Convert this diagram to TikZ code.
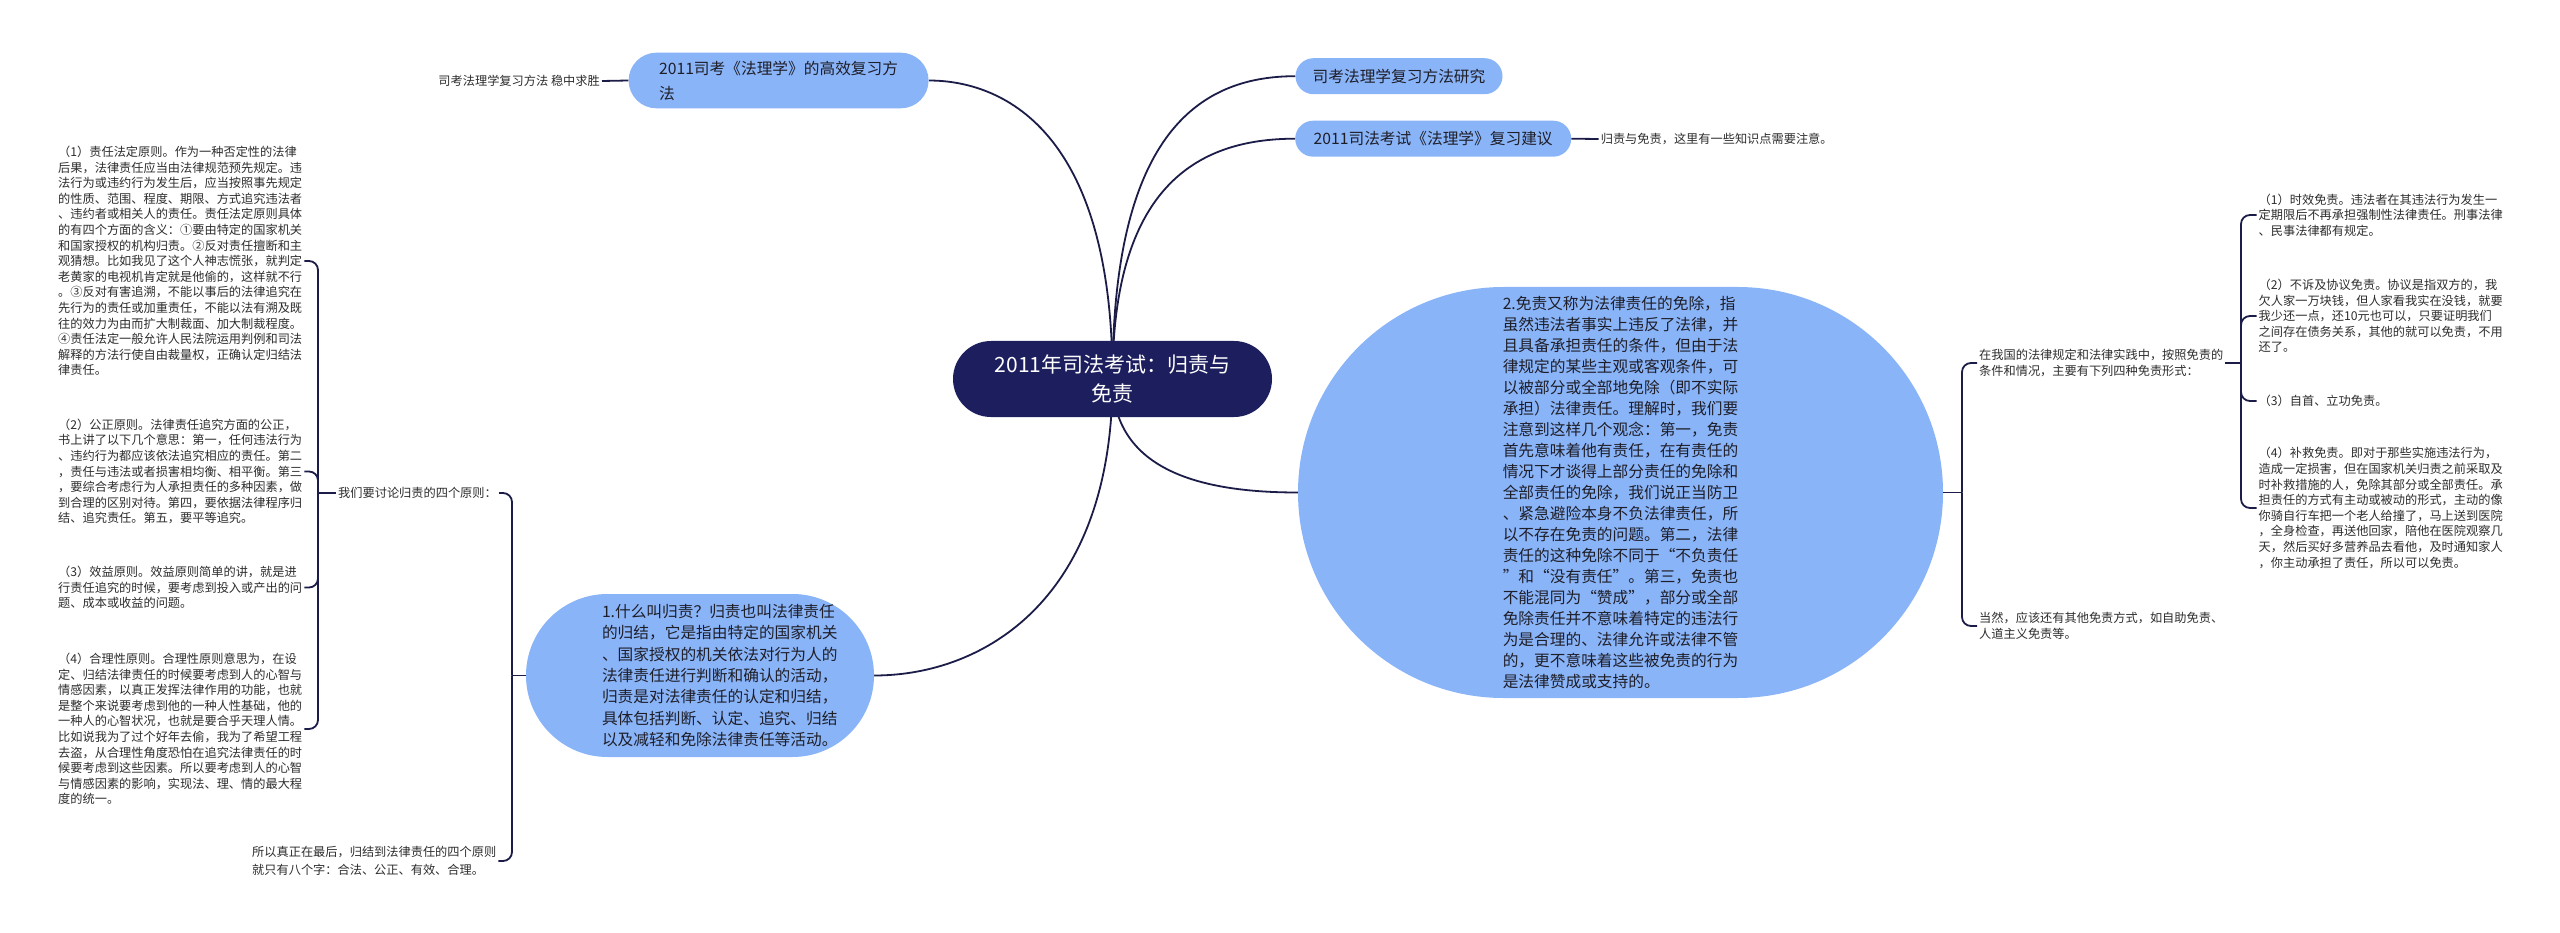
\documentclass[tikz,border=0pt]{standalone}
\usepackage{fontspec}
\setmainfont{Noto Sans CJK SC}
\definecolor{nodeblue}{RGB}{138,180,248}
\definecolor{centerc}{RGB}{29,30,94}
\definecolor{linec}{RGB}{27,28,72}
\definecolor{txtgray}{RGB}{45,45,45}
\definecolor{txtdark}{RGB}{30,30,40}
\pgfdeclarelayer{back}
\pgfsetlayers{back,main}
\begin{document}
\begin{tikzpicture}[x=1pt,y=-1pt,
  conn/.style={draw=linec,line width=1.8pt},
  bracket/.style={conn,rounded corners=9pt},
  bubble/.style={fill=nodeblue,text=txtdark,inner sep=0pt,align=left},
  small/.style={text=txtgray,inner sep=2pt,align=left,font=\fontsize{12.2pt}{15.6pt}\selectfont},
]
\useasboundingbox (0,0) rectangle (2560,933);

% ---------- main nodes ----------
\node[fill=centerc,text=white,rounded corners=38pt,minimum width=319pt,minimum height=76pt,inner sep=0pt,align=center,font=\fontsize{21pt}{28.5pt}\selectfont] (c) at (1112.5,379) {2011年司法考试：归责与\\免责};

\node[bubble,rounded corners=27.8pt,minimum width=300pt,minimum height=55.6pt,font=\fontsize{15.7pt}{25pt}\selectfont] (tl) at (778.6,80.5) {2011司考《法理学》的高效复习方\\法};

\node[bubble,rounded corners=18pt,minimum width=207pt,minimum height=36pt,font=\fontsize{15.7pt}{18pt}\selectfont] (r1) at (1399,76.2) {司考法理学复习方法研究};

\node[bubble,rounded corners=18pt,minimum width=276pt,minimum height=36pt,font=\fontsize{15.7pt}{18pt}\selectfont] (r2) at (1433.2,138.7) {2011司法考试《法理学》复习建议};

\node[bubble,rounded corners=81.5pt,minimum width=348pt,minimum height=163pt,font=\fontsize{15.7pt}{21.3pt}\selectfont] (n1) at (700,675.5) {\hspace*{44pt}\parbox[c]{240pt}{\raggedright
1.什么叫归责？归责也叫法律责任\\
的归结，它是指由特定的国家机关\\
、国家授权的机关依法对行为人的\\
法律责任进行判断和确认的活动，\\
归责是对法律责任的认定和归结，\\
具体包括判断、认定、追究、归结\\
以及减轻和免除法律责任等活动。}};

\node[bubble,rounded corners=205.5pt,minimum width=645pt,minimum height=411pt,font=\fontsize{15.7pt}{20.95pt}\selectfont] (n2) at (1620.5,492.5) {2.免责又称为法律责任的免除，指\\
虽然违法者事实上违反了法律，并\\
且具备承担责任的条件，但由于法\\
律规定的某些主观或客观条件，可\\
以被部分或全部地免除（即不实际\\
承担）法律责任。理解时，我们要\\
注意到这样几个观念：第一，免责\\
首先意味着他有责任，在有责任的\\
情况下才谈得上部分责任的免除和\\
全部责任的免除，我们说正当防卫\\
、紧急避险本身不负法律责任，所\\
以不存在免责的问题。第二，法律\\
责任的这种免除不同于“不负责任\\
”和“没有责任”。第三，免责也\\
不能混同为“赞成”，部分或全部\\
免除责任并不意味着特定的违法行\\
为是合理的、法律允许或法律不管\\
的，更不意味着这些被免责的行为\\
是法律赞成或支持的。};

% ---------- small text nodes ----------
\node[small,anchor=east] (ltl) at (602,81) {司考法理学复习方法 稳中求胜};
\node[small,anchor=west] (lr2) at (1598.6,139) {归责与免责，这里有一些知识点需要注意。};

\node[small,anchor=west] (lb) at (336,493) {我们要讨论归责的四个原则：};
\node[small,anchor=west,font=\fontsize{12.2pt}{17.7pt}\selectfont] (lc) at (250,861) {所以真正在最后，归结到法律责任的四个原则\\就只有八个字：合法、公正、有效、合理。};

\node[small,anchor=west] (k1) at (56,261) {（1）责任法定原则。作为一种否定性的法律\\
后果，法律责任应当由法律规范预先规定。违\\
法行为或违约行为发生后，应当按照事先规定\\
的性质、范围、程度、期限、方式追究违法者\\
、违约者或相关人的责任。责任法定原则具体\\
的有四个方面的含义：①要由特定的国家机关\\
和国家授权的机构归责。②反对责任擅断和主\\
观猜想。比如我见了这个人神志慌张，就判定\\
老黄家的电视机肯定就是他偷的，这样就不行\\
。③反对有害追溯，不能以事后的法律追究在\\
先行为的责任或加重责任，不能以法有溯及既\\
往的效力为由而扩大制裁面、加大制裁程度。\\
④责任法定一般允许人民法院运用判例和司法\\
解释的方法行使自由裁量权，正确认定归结法\\
律责任。};

\node[small,anchor=west] (k2) at (56,471.5) {（2）公正原则。法律责任追究方面的公正，\\
书上讲了以下几个意思：第一，任何违法行为\\
、违约行为都应该依法追究相应的责任。第二\\
，责任与违法或者损害相均衡、相平衡。第三\\
，要综合考虑行为人承担责任的多种因素，做\\
到合理的区别对待。第四，要依据法律程序归\\
结、追究责任。第五，要平等追究。};

\node[small,anchor=west] (k3) at (56,587.5) {（3）效益原则。效益原则简单的讲，就是进\\
行责任追究的时候，要考虑到投入或产出的问\\
题、成本或收益的问题。};

\node[small,anchor=west] (k4) at (56,729) {（4）合理性原则。合理性原则意思为，在设\\
定、归结法律责任的时候要考虑到人的心智与\\
情感因素，以真正发挥法律作用的功能，也就\\
是整个来说要考虑到他的一种人性基础，他的\\
一种人的心智状况，也就是要合乎天理人情。\\
比如说我为了过个好年去偷，我为了希望工程\\
去盗，从合理性角度恐怕在追究法律责任的时\\
候要考虑到这些因素。所以要考虑到人的心智\\
与情感因素的影响，实现法、理、情的最大程\\
度的统一。};

\node[small,anchor=west,font=\fontsize{12.2pt}{16pt}\selectfont] (la) at (1977,363) {在我国的法律规定和法律实践中，按照免责的\\条件和情况，主要有下列四种免责形式：};
\node[small,anchor=west,font=\fontsize{12.2pt}{16pt}\selectfont] (lr) at (1977,626) {当然，应该还有其他免责方式，如自助免责、\\人道主义免责等。};

\node[small,anchor=west] (m1) at (2256.5,215) {（1）时效免责。违法者在其违法行为发生一\\
定期限后不再承担强制性法律责任。刑事法律\\
、民事法律都有规定。};
\node[small,anchor=west] (m2) at (2256.5,316) {（2）不诉及协议免责。协议是指双方的，我\\
欠人家一万块钱，但人家看我实在没钱，就要\\
我少还一点，还10元也可以，只要证明我们\\
之间存在债务关系，其他的就可以免责，不用\\
还了。};
\node[small,anchor=west] (m3) at (2256.5,401) {（3）自首、立功免责。};
\node[small,anchor=west] (m4) at (2256.5,508) {（4）补救免责。即对于那些实施违法行为，\\
造成一定损害，但在国家机关归责之前采取及\\
时补救措施的人，免除其部分或全部责任。承\\
担责任的方式有主动或被动的形式，主动的像\\
你骑自行车把一个老人给撞了，马上送到医院\\
，全身检查，再送他回家，陪他在医院观察几\\
天，然后买好多营养品去看他，及时通知家人\\
，你主动承担了责任，所以可以免责。};

% ---------- connectors ----------
\begin{pgfonlayer}{back}
\fill[white] (0,0) rectangle (2560,933);
\draw[conn] (c.center) .. controls +(0,-280) and +(45,0) .. (tl.east);
\draw[conn] (c.center) .. controls +(0,-240) and +(-100,0) .. (r1.west);
\draw[conn] (c.center) .. controls +(0,-190) and +(-100,0) .. (r2.west);
\draw[conn] (c.center) .. controls +(0,90) and +(-100,0) .. (n2.west);
\draw[conn] (c.center) .. controls +(0,220) and +(110,0) .. (n1.east);
\end{pgfonlayer}

\draw[conn] (tl.west) -- (ltl.east);
\draw[conn] (r2.east) -- (lr2.west);

% node 1 bracket
\coordinate (b1) at (512,675.5);
\draw[conn] (n1.west) -- (b1);
\draw[bracket] (b1) |- (lb.east);
\draw[bracket] (b1) |- (lc.east);

% four principles bracket
\coordinate (b2) at (318,493);
\draw[conn] (lb.west) -- (b2);
\draw[bracket] (b2) |- (k1.east);
\draw[bracket] (b2) |- (k2.east);
\draw[bracket] (b2) |- (k3.east);
\draw[bracket] (b2) |- (k4.east);

% node 2 bracket
\coordinate (b3) at (1962,492.5);
\draw[conn] (n2.east) -- (b3);
\draw[bracket] (b3) |- (la.west);
\draw[bracket] (b3) |- (lr.west);

% four forms bracket
\coordinate (b4) at (2241,363);
\draw[conn] (la.east) -- (b4);
\draw[bracket] (b4) |- (m1.west);
\draw[bracket] (b4) |- (m2.west);
\draw[bracket] (b4) |- (m3.west);
\draw[bracket] (b4) |- (m4.west);
\end{tikzpicture}
\end{document}
